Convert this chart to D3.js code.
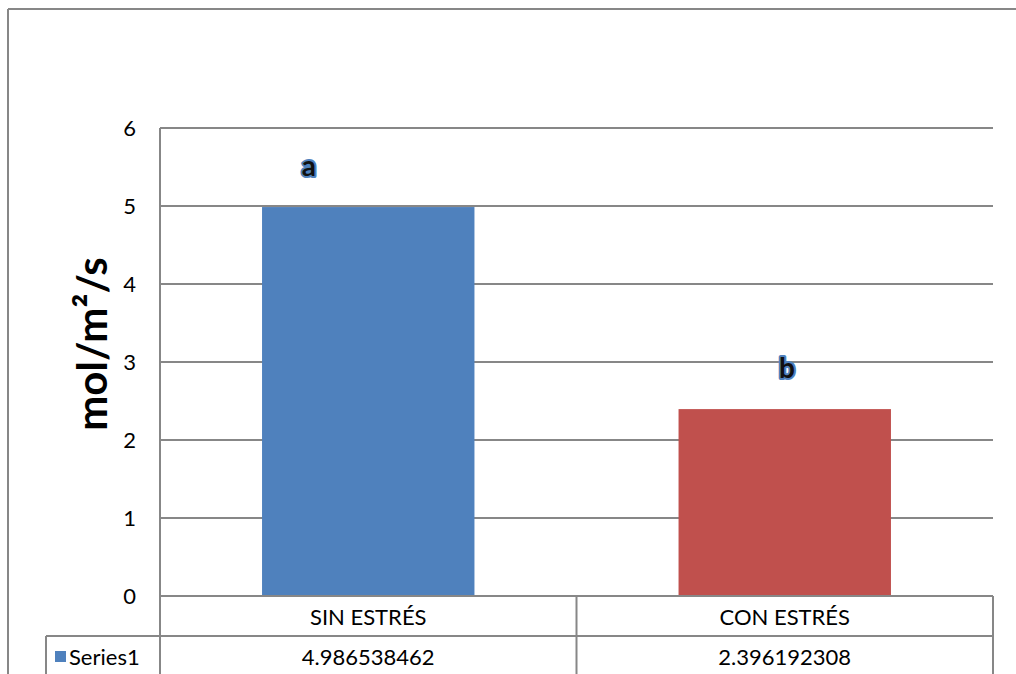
<!DOCTYPE html>
<html>
<head>
<meta charset="utf-8">
<script src="https://cdn.jsdelivr.net/npm/d3@7"></script>
<style>
  html, body { margin: 0; padding: 0; background: #fff; overflow: hidden; }
  svg { display: block; }
  text { font-family: Lato, "Open Sans", sans-serif; fill: #000; }
</style>
</head>
<body>
<svg id="chart" width="1016" height="674"></svg>
<script>
// Stomatal conductance by treatment
const categories = ["SIN ESTRÉS", "CON ESTRÉS"];
const values = [4.986538462, 2.396192308];
const valueLabels = ["4.986538462", "2.396192308"];
const letters = ["a", "b"];
const seriesName = "Series1";
const yTicks = [0, 1, 2, 3, 4, 5, 6];
const barColors = ["#4f81bd", "#c0504d"];

const svg = d3.select("#chart");
const W = 1016, H = 674;
const plot = { left: 160, right: 993, top: 128, bottom: 596 };
const rowH = 40;
const letterShift = [-0.28, 0.01]; // horizontal offset of each letter, in bar widths

// outer chart frame: only the top and left edges fall inside the view
const frame = svg.append("g").attr("stroke", "#878787").attr("stroke-width", 2);
frame.append("line").attr("x1", 8).attr("x2", W).attr("y1", 9).attr("y2", 9);
frame.append("line").attr("x1", 8).attr("x2", 8).attr("y1", 9).attr("y2", H);

const y = d3.scaleLinear().domain([0, 6]).range([plot.bottom, plot.top]);
const x = d3.scaleBand().domain(categories).range([plot.left, plot.right])
  .paddingInner(0.49).paddingOuter(0.245);
const col = d3.scaleBand().domain(categories).range([plot.left, plot.right]);

// gridlines
svg.append("g").selectAll("line").data(yTicks.filter(d => d > 0)).join("line")
  .attr("x1", plot.left).attr("x2", plot.right)
  .attr("y1", d => y(d)).attr("y2", d => y(d))
  .attr("stroke", "#878787").attr("stroke-width", 2);

// bars
svg.append("g").selectAll("rect").data(values).join("rect")
  .attr("x", (d, i) => x(categories[i]))
  .attr("width", x.bandwidth())
  .attr("y", d => y(d))
  .attr("height", d => y(0) - y(d))
  .attr("fill", (d, i) => barColors[i]);

// significance letters
svg.append("g").selectAll("text").data(values).join("text")
  .attr("x", (d, i) => x(categories[i]) + x.bandwidth() * (0.5 + letterShift[i]))
  .attr("y", d => y(d) - 31)
  .attr("text-anchor", "middle")
  .style("font-size", "28px").style("font-weight", "bold")
  .style("fill", "#111")
  .attr("stroke", "#4f81bd").attr("stroke-width", 4)
  .attr("paint-order", "stroke").attr("stroke-linejoin", "round")
  .text((d, i) => letters[i]);

// y axis
const yAxis = d3.axisLeft(y).tickValues(yTicks).tickSize(0).tickPadding(24)
  .tickFormat(d3.format("d"));
const ya = svg.append("g").attr("transform", `translate(${plot.left},0)`).call(yAxis);
ya.select(".domain").remove();
ya.selectAll("text").style("font-family", "Lato, sans-serif").style("font-size", "22px")
  .attr("dy", "0.36em");
svg.append("line").attr("x1", plot.left).attr("x2", plot.left)
  .attr("y1", plot.top).attr("y2", H)
  .attr("stroke", "#878787").attr("stroke-width", 2);

// y title
svg.append("text")
  .attr("transform", `translate(107,${(plot.top + plot.bottom) / 2 - 18}) rotate(-90)`)
  .attr("text-anchor", "middle")
  .style("font-size", "42px").style("font-weight", "bold")
  .text("mol/m²/s");

// data table
const tbl = svg.append("g").attr("stroke", "#878787").attr("stroke-width", 2).attr("fill", "none");
tbl.append("line").attr("x1", plot.left).attr("x2", plot.right).attr("y1", plot.bottom).attr("y2", plot.bottom);
tbl.append("line").attr("x1", 46).attr("x2", plot.right).attr("y1", plot.bottom + rowH).attr("y2", plot.bottom + rowH);
tbl.append("line").attr("x1", 46).attr("x2", 46).attr("y1", plot.bottom + rowH).attr("y2", H);
tbl.selectAll(".vcol").data(categories).join("line")
  .attr("x1", d => col(d) + col.bandwidth()).attr("x2", d => col(d) + col.bandwidth())
  .attr("y1", plot.bottom).attr("y2", H);

svg.append("g").selectAll("text").data(categories).join("text")
  .attr("x", d => col(d) + col.bandwidth() / 2)
  .attr("y", plot.bottom + rowH / 2 + 1).attr("dy", "0.36em")
  .attr("text-anchor", "middle").style("font-size", "22px")
  .text(d => d);

svg.append("g").selectAll("text").data(valueLabels).join("text")
  .attr("x", (d, i) => col(categories[i]) + col.bandwidth() / 2)
  .attr("y", plot.bottom + rowH * 1.5 + 1).attr("dy", "0.36em")
  .attr("text-anchor", "middle").style("font-size", "22px")
  .text(d => d);

// legend key in table
svg.append("rect").attr("x", 55).attr("y", 651).attr("width", 11).attr("height", 11)
  .attr("fill", barColors[0]);
svg.append("text").attr("x", 69).attr("y", plot.bottom + rowH * 1.5 + 1).attr("dy", "0.36em")
  .style("font-size", "22px").text(seriesName);
</script>
</body>
</html>
